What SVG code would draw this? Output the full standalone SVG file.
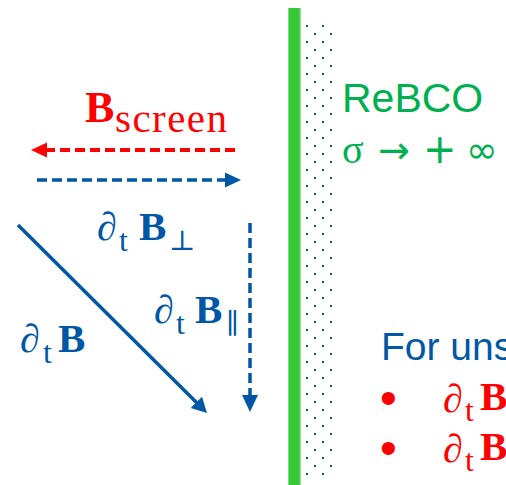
<svg xmlns="http://www.w3.org/2000/svg" width="506" height="485" viewBox="0 0 506 485">
<defs>
<style>
.m{font-family:"Liberation Serif","DejaVu Serif",serif}
.d{font-family:"DejaVu Sans",sans-serif}
.s{font-family:"Liberation Sans",Arial,sans-serif}
.b{font-weight:bold}
.blue{fill:#0057a6}
.red{fill:#ff0000}
.green{fill:#00b050}
.dash{fill:none;stroke-dasharray:10 5}
</style>
<pattern id="dots" x="303" y="22" width="16" height="16" patternUnits="userSpaceOnUse">
<rect x="3" y="3" width="2" height="2" fill="#0057a6"/>
<rect x="11" y="11" width="2" height="2" fill="#0057a6"/>
</pattern>
</defs>
<rect width="506" height="485" fill="#ffffff"/>
<g id="wall">
<rect x="288" y="8" width="12.5" height="477" fill="#35c935"/>
<rect x="288" y="8" width="1" height="477" fill="#7fdc7f"/>
<rect x="299.5" y="8" width="1" height="477" fill="#7fdc7f"/>
<rect x="303" y="22" width="32" height="456" fill="url(#dots)"/>
</g>
<g id="connectors">
<line x1="235" y1="150" x2="46" y2="150" stroke="#ff0000" stroke-width="4" class="dash" stroke-dasharray="11 5"/>
<polygon points="31,150 47,142.5 47,157.5" fill="#ff0000"/>
<line x1="37" y1="180" x2="226" y2="180" stroke="#0057a6" stroke-width="3.5" class="dash"/>
<polygon points="241,180 225,172.5 225,187.5" fill="#0057a6"/>
<line x1="250" y1="223" x2="250" y2="396" stroke="#0057a6" stroke-width="3.5" class="dash"/>
<polygon points="250,412 242,395 258,395" fill="#0057a6"/>
<line x1="18" y1="225" x2="197" y2="403" stroke="#0057a6" stroke-width="3.5"/>
<polygon points="207,413 190.7,408.1 202,396.7" fill="#0057a6"/>
</g>
<g id="label-bscreen" class="m red">
<text x="85" y="122" class="b" font-size="44">B</text>
<text x="115" y="132" font-size="41" textLength="112">screen</text>
</g>
<g id="label-dtb-perp" class="m blue">
<text x="97" y="240" font-size="40">∂</text>
<text x="119" y="251" font-size="32">t</text>
<text x="139" y="240" font-size="41" class="b">B</text>
<text x="169" y="250" font-size="28">⊥</text>
</g>
<g id="label-dtb-par" class="m blue">
<text x="154" y="323" font-size="40">∂</text>
<text x="176" y="334" font-size="32">t</text>
<text x="195" y="323" font-size="41" class="b">B</text>
<text x="226" y="333" font-size="28">∥</text>
</g>
<g id="label-dtb" class="m blue">
<text x="20" y="352" font-size="40">∂</text>
<text x="43" y="363" font-size="32">t</text>
<text x="58" y="352" font-size="41" class="b">B</text>
</g>
<g id="label-rebco" class="green">
<text x="342" y="112" class="s" font-size="41">ReBCO</text>
<text x="342" y="163" class="m" font-size="40">σ</text>
<text x="378" y="163" class="d" font-size="38">→</text>
<text x="423" y="163" class="d" font-size="40">+</text>
<text x="466" y="163" class="d" font-size="38">∞</text>
</g>
<g id="note">
<text x="381" y="360" class="s blue" font-size="39">For uns</text>
<text x="380" y="414" class="s red" font-size="48">•</text>
<text x="443" y="412" class="m red" font-size="40">∂</text>
<text x="465" y="421" class="m red" font-size="32">t</text>
<text x="480" y="410" class="m red b" font-size="41">B</text>
<text x="380" y="464" class="s red" font-size="48">•</text>
<text x="443" y="462" class="m red" font-size="40">∂</text>
<text x="465" y="471" class="m red" font-size="32">t</text>
<text x="480" y="460" class="m red b" font-size="41">B</text>
</g>
</svg>
